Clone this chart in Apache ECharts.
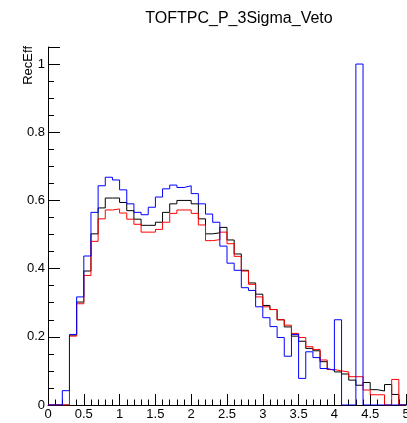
<!DOCTYPE html>
<html>
<head>
<meta charset="utf-8">
<script src="https://cdn.jsdelivr.net/npm/echarts@6/dist/echarts.min.js"></script>
<style>
html,body{margin:0;padding:0;background:#fff;overflow:hidden;}
#c{width:407px;height:423px;}
</style>
</head>
<body>
<div id="c"></div>
<script>
// ---- data (bin lower edges: 0.0 .. 4.9, bin width 0.1) ----
const BIN_WIDTH = 0.1;
const X_MIN = 0, X_MAX = 5;
const Y_MIN = 0, Y_MAX = 1.05;
const binLow = Array.from({length: 50}, (_, i) => +(i * BIN_WIDTH).toFixed(1));

const blackVals = [0,0,0,0.205,0.302,0.393,0.502,0.578,0.607,0.607,
  0.594,0.570,0.545,0.527,0.527,0.536,0.565,0.590,0.600,0.600,
  0.590,0.546,0.502,0.505,0.521,0.484,0.443,0.395,0.358,0.325,
  0.292,0.280,0.250,0.229,0.202,0.187,0.166,0.159,0.127,0.104,
  0.097,0.091,0.073,0.058,0.066,0.045,0.041,0.060,0.031,0];

const redVals = [0,0,0,0.202,0.297,0.380,0.480,0.546,0.572,0.575,
  0.563,0.545,0.530,0.507,0.507,0.515,0.536,0.562,0.572,0.572,
  0.562,0.528,0.482,0.485,0.507,0.473,0.436,0.393,0.354,0.317,
  0.288,0.280,0.250,0.234,0.210,0.198,0.171,0.163,0.132,0.104,
  0.100,0.097,0.083,0.083,0.044,0.030,0.030,0,0.075,0];

const blueVals = [0,0,0.042,0.207,0.317,0.437,0.565,0.643,0.668,0.660,
  0.631,0.590,0.565,0.558,0.580,0.610,0.634,0.645,0.638,0.643,
  0.620,0.590,0.560,0.536,0.466,0.416,0.395,0.344,0.336,0.288,
  0.256,0.230,0.198,0.143,0.207,0.078,0.156,0.139,0.107,0.102,
  0.250,0,0,1.000,0,0,0,0,0,0];

const xTickLabels = ['0','0.5','1','1.5','2','2.5','3','3.5','4','4.5','5'];
const yTickLabels = ['0','0.2','0.4','0.6','0.8','1'];
const titleText = 'TOFTPC_P_3Sigma_Veto';
const yTitle = 'RecEff';

// ---- build ----
function steps(vals) {
  const d = vals.map((v, i) => [binLow[i], v]);
  d.push([X_MAX, vals[vals.length - 1]]);
  return d;
}
function fmt(v, list) {
  const s = String(+v.toFixed(2));
  return list.indexOf(s) >= 0 ? s : '';
}
const FONT = 'Liberation Sans, Arial, Helvetica, sans-serif';
const axLine = {show: true, lineStyle: {color: '#000', width: 1}};

const chart = echarts.init(document.getElementById('c'), null, {renderer: 'canvas'});
chart.setOption({
  animation: false,
  backgroundColor: '#fff',
  title: {
    text: titleText, left: 234, top: 6, textAlign: 'center',
    textStyle: {fontFamily: FONT, fontSize: 16, fontWeight: 'normal', color: '#000'}
  },
  graphic: [{
    type: 'text', x: 28, y: 46, rotation: Math.PI / 2,
    style: {text: yTitle, font: '13px ' + FONT, fill: '#000', align: 'right', verticalAlign: 'middle'}
  }],
  grid: {left: 48, right: 1, top: 47, bottom: 18, show: false,
    containLabel: false, outerBoundsMode: 'none'},
  xAxis: [{
    type: 'value', min: X_MIN, max: X_MAX, interval: 0.5,
    axisLine: axLine,
    axisTick: {show: true, inside: true, length: 11, lineStyle: {color: '#000'}},
    axisLabel: {margin: 3, color: '#000', fontFamily: FONT, fontSize: 13,
      formatter: v => fmt(v, xTickLabels)},
    splitLine: {show: false}
  }, {
    type: 'value', min: X_MIN, max: X_MAX, interval: 0.1, position: 'bottom',
    axisLine: {show: false},
    axisTick: {show: true, inside: true, length: 5.5, lineStyle: {color: '#000'}},
    axisLabel: {show: false}, splitLine: {show: false}
  }],
  yAxis: [{
    type: 'value', min: Y_MIN, max: Y_MAX, interval: 0.2,
    axisLine: axLine,
    axisTick: {show: true, inside: true, length: 12, lineStyle: {color: '#000'}},
    axisLabel: {margin: 3, color: '#000', fontFamily: FONT, fontSize: 13,
      formatter: v => fmt(v, yTickLabels)},
    splitLine: {show: false}
  }, {
    type: 'value', min: Y_MIN, max: Y_MAX, interval: 0.05, position: 'left',
    axisLine: {show: false},
    axisTick: {show: true, inside: true, length: 6, lineStyle: {color: '#000'}},
    axisLabel: {show: false}, splitLine: {show: false}
  }],
  series: [
    {type: 'line', step: 'end', symbol: 'none', data: steps(blackVals), z: 3,
      lineStyle: {color: '#000000', width: 1}, itemStyle: {color: '#000'}},
    {type: 'line', step: 'end', symbol: 'none', data: steps(redVals), z: 4,
      lineStyle: {color: '#ff0000', width: 1}, itemStyle: {color: '#f00'}},
    {type: 'line', step: 'end', symbol: 'none', data: steps(blueVals), z: 5,
      lineStyle: {color: '#0000ff', width: 1}, itemStyle: {color: '#00f'}}
  ]
});
</script>
</body>
</html>
